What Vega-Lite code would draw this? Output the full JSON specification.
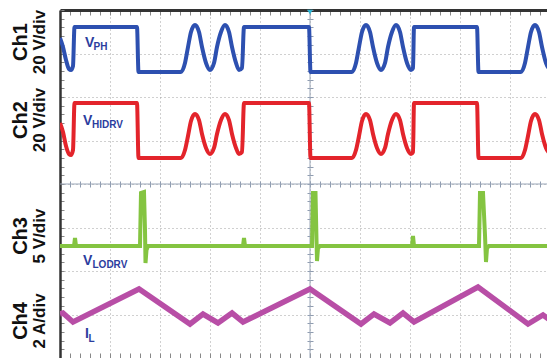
{
  "$schema": "https://vega.github.io/schema/vega-lite/v6.json",
  "autosize": {"type": "none"},
  "width": 487,
  "height": 348,
  "padding": {"left": 60, "top": 10, "right": 0, "bottom": 0},
  "background": "white",
  "config": {"view": {"stroke": null}, "font": "Liberation Sans"},
  "datasets": {
    "ch1": [
      {"t": 0, "v": 7.356}, {"t": 0.06, "v": 7.149}, {"t": 0.12, "v": 6.851}, {"t": 0.18, "v": 6.644}, {"t": 0.22, "v": 6.621}, {"t": 0.26, "v": 6.713}, {"t": 0.29, "v": 7.609},
      {"t": 1.54, "v": 7.609}, {"t": 1.57, "v": 6.575}, {"t": 2.42, "v": 6.575},
      {"t": 2.50, "v": 6.782}, {"t": 2.56, "v": 7.149}, {"t": 2.62, "v": 7.494}, {"t": 2.70, "v": 7.655}, {"t": 2.78, "v": 7.494}, {"t": 2.84, "v": 7.149}, {"t": 2.92, "v": 6.782}, {"t": 3.00, "v": 6.621},
      {"t": 3.08, "v": 6.782}, {"t": 3.14, "v": 7.149}, {"t": 3.22, "v": 7.494}, {"t": 3.30, "v": 7.655}, {"t": 3.38, "v": 7.494}, {"t": 3.44, "v": 7.149}, {"t": 3.52, "v": 6.782}, {"t": 3.58, "v": 6.621}, {"t": 3.64, "v": 6.667}, {"t": 3.68, "v": 7.609},
      {"t": 4.98, "v": 7.609}, {"t": 5.01, "v": 6.575}, {"t": 5.84, "v": 6.575},
      {"t": 5.92, "v": 6.782}, {"t": 5.98, "v": 7.149}, {"t": 6.04, "v": 7.494}, {"t": 6.12, "v": 7.655}, {"t": 6.20, "v": 7.494}, {"t": 6.26, "v": 7.149}, {"t": 6.34, "v": 6.782}, {"t": 6.42, "v": 6.621},
      {"t": 6.50, "v": 6.782}, {"t": 6.56, "v": 7.149}, {"t": 6.64, "v": 7.494}, {"t": 6.72, "v": 7.655}, {"t": 6.80, "v": 7.494}, {"t": 6.86, "v": 7.149}, {"t": 6.94, "v": 6.782}, {"t": 7.02, "v": 6.621}, {"t": 7.06, "v": 6.667}, {"t": 7.08, "v": 7.609},
      {"t": 8.34, "v": 7.609}, {"t": 8.37, "v": 6.575}, {"t": 9.22, "v": 6.575},
      {"t": 9.30, "v": 6.782}, {"t": 9.36, "v": 7.149}, {"t": 9.42, "v": 7.494}, {"t": 9.50, "v": 7.655}, {"t": 9.58, "v": 7.494}, {"t": 9.64, "v": 7.149}, {"t": 9.72, "v": 6.782}, {"t": 9.80, "v": 6.621}
    ],
    "ch2": [
      {"t": 0, "v": 5.402}, {"t": 0.06, "v": 5.195}, {"t": 0.12, "v": 4.874}, {"t": 0.18, "v": 4.690}, {"t": 0.22, "v": 4.667}, {"t": 0.26, "v": 4.782}, {"t": 0.29, "v": 5.862},
      {"t": 1.54, "v": 5.862}, {"t": 1.57, "v": 4.598}, {"t": 2.42, "v": 4.598},
      {"t": 2.50, "v": 4.782}, {"t": 2.56, "v": 5.103}, {"t": 2.62, "v": 5.448}, {"t": 2.70, "v": 5.609}, {"t": 2.78, "v": 5.471}, {"t": 2.84, "v": 5.149}, {"t": 2.92, "v": 4.828}, {"t": 3.00, "v": 4.690},
      {"t": 3.08, "v": 4.828}, {"t": 3.14, "v": 5.149}, {"t": 3.22, "v": 5.471}, {"t": 3.30, "v": 5.609}, {"t": 3.38, "v": 5.471}, {"t": 3.44, "v": 5.149}, {"t": 3.52, "v": 4.828}, {"t": 3.58, "v": 4.690}, {"t": 3.64, "v": 4.736}, {"t": 3.68, "v": 5.862},
      {"t": 4.98, "v": 5.862}, {"t": 5.01, "v": 4.598}, {"t": 5.84, "v": 4.598},
      {"t": 5.92, "v": 4.782}, {"t": 5.98, "v": 5.103}, {"t": 6.04, "v": 5.448}, {"t": 6.12, "v": 5.609}, {"t": 6.20, "v": 5.471}, {"t": 6.26, "v": 5.149}, {"t": 6.34, "v": 4.828}, {"t": 6.42, "v": 4.690},
      {"t": 6.50, "v": 4.828}, {"t": 6.56, "v": 5.149}, {"t": 6.64, "v": 5.471}, {"t": 6.72, "v": 5.609}, {"t": 6.80, "v": 5.471}, {"t": 6.86, "v": 5.149}, {"t": 6.94, "v": 4.828}, {"t": 7.02, "v": 4.690}, {"t": 7.06, "v": 4.736}, {"t": 7.08, "v": 5.862},
      {"t": 8.34, "v": 5.862}, {"t": 8.37, "v": 4.598}, {"t": 9.22, "v": 4.598},
      {"t": 9.30, "v": 4.782}, {"t": 9.36, "v": 5.103}, {"t": 9.42, "v": 5.448}, {"t": 9.50, "v": 5.609}, {"t": 9.58, "v": 5.471}, {"t": 9.64, "v": 5.149}, {"t": 9.72, "v": 4.828}, {"t": 9.80, "v": 4.690}
    ],
    "ch3": [
      {"t": 0, "v": 2.575}, {"t": 0.28, "v": 2.575}, {"t": 0.30, "v": 2.759}, {"t": 0.32, "v": 2.575},
      {"t": 1.60, "v": 2.575}, {"t": 1.62, "v": 3.793}, {"t": 1.68, "v": 3.816}, {"t": 1.70, "v": 2.943}, {"t": 1.71, "v": 2.184}, {"t": 1.73, "v": 2.483}, {"t": 1.76, "v": 2.575},
      {"t": 3.66, "v": 2.575}, {"t": 3.68, "v": 2.759}, {"t": 3.70, "v": 2.575},
      {"t": 5.04, "v": 2.575}, {"t": 5.06, "v": 3.793}, {"t": 5.11, "v": 3.793}, {"t": 5.13, "v": 2.713}, {"t": 5.14, "v": 2.230}, {"t": 5.16, "v": 2.529}, {"t": 5.20, "v": 2.575},
      {"t": 7.04, "v": 2.575}, {"t": 7.06, "v": 2.805}, {"t": 7.08, "v": 2.575},
      {"t": 8.38, "v": 2.575}, {"t": 8.40, "v": 3.793}, {"t": 8.46, "v": 3.793}, {"t": 8.50, "v": 2.828}, {"t": 8.52, "v": 2.207}, {"t": 8.54, "v": 2.529}, {"t": 8.58, "v": 2.575},
      {"t": 9.80, "v": 2.575}
    ],
    "ch4": [
      {"t": 0, "v": 1.011}, {"t": 0.06, "v": 1.034}, {"t": 0.26, "v": 0.828}, {"t": 1.58, "v": 1.586},
      {"t": 2.60, "v": 0.782}, {"t": 2.86, "v": 1.011}, {"t": 3.16, "v": 0.805}, {"t": 3.44, "v": 1.034}, {"t": 3.66, "v": 0.828}, {"t": 5.00, "v": 1.586},
      {"t": 6.02, "v": 0.782}, {"t": 6.28, "v": 1.011}, {"t": 6.60, "v": 0.805}, {"t": 6.86, "v": 1.034}, {"t": 7.08, "v": 0.828}, {"t": 8.36, "v": 1.632},
      {"t": 9.36, "v": 0.782}, {"t": 9.66, "v": 0.989}, {"t": 9.80, "v": 0.874}
    ],
    "chlabels": [
      {"name": "Ch1", "scale": "20 V/div", "t": -0.78, "t2": -0.40, "v": 7.264},
      {"name": "Ch2", "scale": "20 V/div", "t": -0.78, "t2": -0.40, "v": 5.471},
      {"name": "Ch3", "scale": "5 V/div", "t": -0.78, "t2": -0.40, "v": 2.805},
      {"name": "Ch4", "scale": "2 A/div", "t": -0.78, "t2": -0.40, "v": 0.851}
    ],
    "tracelabels": [
      {"main": "V", "sub": "PH", "t": 0.5, "v": 7.149, "ts": 0.67, "vs": 7.08},
      {"main": "V", "sub": "HIDRV", "t": 0.46, "v": 5.356, "ts": 0.64, "vs": 5.287},
      {"main": "V", "sub": "LODRV", "t": 0.46, "v": 2.138, "ts": 0.65, "vs": 2.069},
      {"main": "I", "sub": "L", "t": 0.5, "v": 0.46, "ts": 0.57, "vs": 0.368}
    ],
    "cross": [{"t": 5, "v": 4}],
    "trigger": [{"t": 5, "v": 7.95}]
  },
  "resolve": {"axis": {"x": "independent", "y": "independent"}},
  "layer": [
    {
      "data": {"name": "cross"},
      "mark": {"type": "rule", "color": "#9aa6b8", "strokeWidth": 1},
      "encoding": {
        "x": {"field": "t", "type": "quantitative", "scale": {"domain": [0, 9.74], "nice": false, "zero": false},
          "axis": {"orient": "bottom", "values": [1,2,3,4,5,6,7,8,9], "grid": true, "gridDash": [1, 3], "gridColor": "#a0a0a0", "gridWidth": 1, "ticks": false, "labels": false, "domain": false, "title": null}}
      }
    },
    {
      "data": {"name": "cross"},
      "mark": {"type": "rule", "color": "#9aa6b8", "strokeWidth": 1},
      "encoding": {
        "y": {"field": "v", "type": "quantitative", "scale": {"domain": [0, 8], "nice": false, "zero": false},
          "axis": {"orient": "left", "values": [1,2,3,4,5,6,7], "grid": true, "gridDash": [1, 3], "gridColor": "#a0a0a0", "gridWidth": 1, "ticks": false, "labels": false, "domain": false, "title": null}}
      }
    },
    {
      "data": {"name": "ch1"},
      "mark": {"type": "line", "color": "#2d50b0", "strokeWidth": 4, "clip": true, "interpolate": "monotone"},
      "encoding": {
        "y": {"field": "v", "type": "quantitative", "scale": {"domain": [0, 8], "nice": false, "zero": false},
          "axis": {"orient": "left", "values": [0,0.2,0.4,0.6,0.8,1,1.2,1.4,1.6,1.8,2,2.2,2.4,2.6,2.8,3,3.2,3.4,3.6,3.8,4,4.2,4.4,4.6,4.8,5,5.2,5.4,5.6,5.8,6,6.2,6.4,6.6,6.8,7,7.2,7.4,7.6,7.8,8], "tickSize": -4, "tickColor": "#888", "domain": true, "domainColor": "#333", "domainWidth": 2.5, "labels": false, "grid": false, "title": null}},
        "x": {"field": "t", "type": "quantitative", "scale": {"domain": [0, 9.74], "nice": false, "zero": false},
          "axis": {"orient": "top", "values": [0,0.2,0.4,0.6,0.8,1,1.2,1.4,1.6,1.8,2,2.2,2.4,2.6,2.8,3,3.2,3.4,3.6,3.8,4,4.2,4.4,4.6,4.8,5,5.2,5.4,5.6,5.8,6,6.2,6.4,6.6,6.8,7,7.2,7.4,7.6,7.8,8,8.2,8.4,8.6,8.8,9,9.2,9.4,9.6], "tickSize": -5, "tickColor": "#888", "domain": true, "domainColor": "#333", "domainWidth": 3, "labels": false, "grid": false, "title": null}}
      }
    },
    {
      "data": {"name": "ch2"},
      "mark": {"type": "line", "color": "#e3242b", "strokeWidth": 4, "clip": true, "interpolate": "monotone"},
      "encoding": {
        "x": {"field": "t", "type": "quantitative", "scale": {"domain": [0, 9.74], "nice": false, "zero": false},
          "axis": {"orient": "bottom", "values": [0,0.2,0.4,0.6,0.8,1,1.2,1.4,1.6,1.8,2,2.2,2.4,2.6,2.8,3,3.2,3.4,3.6,3.8,4,4.2,4.4,4.6,4.8,5,5.2,5.4,5.6,5.8,6,6.2,6.4,6.6,6.8,7,7.2,7.4,7.6,7.8,8,8.2,8.4,8.6,8.8,9,9.2,9.4,9.6], "tickSize": -5, "tickColor": "#888", "domain": false, "labels": false, "grid": false, "title": null}},
        "y": {"field": "v", "type": "quantitative", "scale": {"domain": [0, 8], "nice": false, "zero": false},
          "axis": {"orient": "left", "offset": -253, "values": [0,0.2,0.4,0.6,0.8,1,1.2,1.4,1.6,1.8,2,2.2,2.4,2.6,2.8,3,3.2,3.4,3.6,3.8,4,4.2,4.4,4.6,4.8,5,5.2,5.4,5.6,5.8,6,6.2,6.4,6.6,6.8,7,7.2,7.4,7.6,7.8,8], "tickSize": 6, "tickColor": "#8f9cb0", "domain": false, "labels": false, "grid": false, "title": null}}
      }
    },
    {
      "data": {"name": "ch3"},
      "mark": {"type": "line", "color": "#84c441", "strokeWidth": 4, "clip": true},
      "encoding": {
        "x": {"field": "t", "type": "quantitative", "scale": {"domain": [0, 9.74], "nice": false, "zero": false},
          "axis": {"orient": "bottom", "offset": -177, "values": [0,0.2,0.4,0.6,0.8,1,1.2,1.4,1.6,1.8,2,2.2,2.4,2.6,2.8,3,3.2,3.4,3.6,3.8,4,4.2,4.4,4.6,4.8,5,5.2,5.4,5.6,5.8,6,6.2,6.4,6.6,6.8,7,7.2,7.4,7.6,7.8,8,8.2,8.4,8.6,8.8,9,9.2,9.4,9.6], "tickSize": 6, "tickColor": "#8f9cb0", "domain": false, "labels": false, "grid": false, "title": null}},
        "y": {"field": "v", "type": "quantitative", "scale": {"domain": [0, 8], "nice": false, "zero": false}, "axis": null}
      }
    },
    {
      "data": {"name": "ch4"},
      "mark": {"type": "line", "color": "#b84ea6", "strokeWidth": 5.5, "clip": true},
      "encoding": {
        "x": {"field": "t", "type": "quantitative", "scale": {"domain": [0, 9.74], "nice": false, "zero": false}, "axis": null},
        "y": {"field": "v", "type": "quantitative", "scale": {"domain": [0, 8], "nice": false, "zero": false}, "axis": null}
      }
    },
    {
      "data": {"name": "trigger"},
      "mark": {"type": "point", "shape": "triangle-down", "filled": true, "color": "#2fb8d8", "size": 30, "opacity": 1},
      "encoding": {
        "x": {"field": "t", "type": "quantitative", "scale": {"domain": [0, 9.74], "nice": false, "zero": false}, "axis": null},
        "y": {"field": "v", "type": "quantitative", "scale": {"domain": [0, 8], "nice": false, "zero": false}, "axis": null}
      }
    },
    {
      "data": {"name": "chlabels"},
      "mark": {"type": "text", "angle": 270, "align": "center", "baseline": "middle", "fontSize": 20, "fontWeight": "bold", "font": "Liberation Sans", "color": "#111"},
      "encoding": {
        "x": {"field": "t", "type": "quantitative", "scale": {"domain": [0, 9.74], "nice": false, "zero": false}, "axis": null},
        "y": {"field": "v", "type": "quantitative", "scale": {"domain": [0, 8], "nice": false, "zero": false}, "axis": null},
        "text": {"field": "name"}
      }
    },
    {
      "data": {"name": "chlabels"},
      "mark": {"type": "text", "angle": 270, "align": "center", "baseline": "middle", "fontSize": 17, "fontWeight": "bold", "font": "Liberation Sans", "color": "#111"},
      "encoding": {
        "x": {"field": "t2", "type": "quantitative", "scale": {"domain": [0, 9.74], "nice": false, "zero": false}, "axis": null},
        "y": {"field": "v", "type": "quantitative", "scale": {"domain": [0, 8], "nice": false, "zero": false}, "axis": null},
        "text": {"field": "scale"}
      }
    },
    {
      "data": {"name": "tracelabels"},
      "mark": {"type": "text", "align": "left", "baseline": "alphabetic", "fontSize": 14, "fontWeight": "bold", "font": "Liberation Sans", "color": "#2b3d9e"},
      "encoding": {
        "x": {"field": "t", "type": "quantitative", "scale": {"domain": [0, 9.74], "nice": false, "zero": false}, "axis": null},
        "y": {"field": "v", "type": "quantitative", "scale": {"domain": [0, 8], "nice": false, "zero": false}, "axis": null},
        "text": {"field": "main"}
      }
    },
    {
      "data": {"name": "tracelabels"},
      "mark": {"type": "text", "align": "left", "baseline": "alphabetic", "fontSize": 10, "fontWeight": "bold", "font": "Liberation Sans", "color": "#2b3d9e"},
      "encoding": {
        "x": {"field": "ts", "type": "quantitative", "scale": {"domain": [0, 9.74], "nice": false, "zero": false}, "axis": null},
        "y": {"field": "vs", "type": "quantitative", "scale": {"domain": [0, 8], "nice": false, "zero": false}, "axis": null},
        "text": {"field": "sub"}
      }
    }
  ]
}
